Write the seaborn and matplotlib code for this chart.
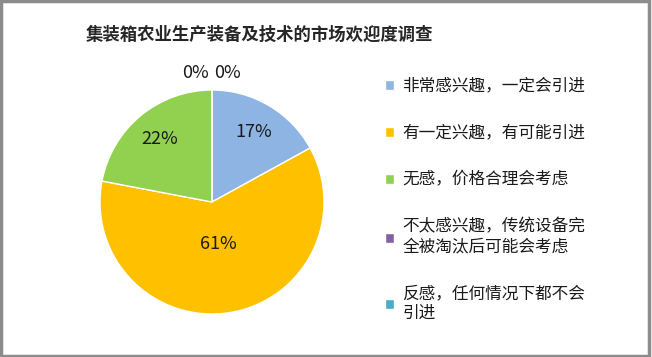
import seaborn as sns
import matplotlib.pyplot as plt
from matplotlib.patches import Rectangle

sns.set_theme(style="white")
plt.rcParams['font.family'] = ['Noto Sans CJK SC', 'DejaVu Sans']

# 数据
categories = ["非常感兴趣，一定会引进", "有一定兴趣，有可能引进", "无感，价格合理会考虑",
              "不太感兴趣，传统设备完\n全被淘汰后可能会考虑", "反感，任何情况下都不会\n引进"]
values = [17, 61, 22, 0, 0]
colors = ["#8EB4E3", "#FFC000", "#92D050", "#8064A2", "#4BACC6"]

fig = plt.figure(figsize=(6.52, 3.57), dpi=100)
ax = fig.add_axes([100 / 652, 1 - 314 / 357, 224 / 652, 224 / 357])

wedges, texts, autotexts = ax.pie(values, colors=colors, startangle=90, counterclock=False,
                                  autopct="%1.0f%%", pctdistance=0.73,
                                  wedgeprops=dict(linewidth=1, edgecolor="white"),
                                  textprops=dict(fontsize=13, color="#1a1a1a"))
ax.set_aspect("equal")
ax.set_xlim(-1, 1)
ax.set_ylim(-1, 1)
# 61% 靠近圆心
x61, y61 = autotexts[1].get_position()
autotexts[1].set_position((x61 * 0.52, y61 * 0.52))
# 0% 标签放在饼图上方
autotexts[3].set_position((-0.15, 1.15))
autotexts[4].set_position((0.14, 1.15))
for t in autotexts:
    t.set_clip_on(False)

fig.text(260 / 652, 1 - 35 / 357, "集装箱农业生产装备及技术的市场欢迎度调查",
         ha="center", va="center", fontsize=12.5, fontweight="bold")

leg = fig.legend(wedges, categories, loc="upper left", bbox_to_anchor=(378 / 652, 1 - 71 / 357),
                 frameon=False, fontsize=12, labelspacing=1.8, handlelength=0.55,
                 handleheight=0.55, handletextpad=0.5, borderaxespad=0)
for t in leg.get_texts():
    t.set_color("#1a1a1a")

fig.patches.append(Rectangle((0.002, 0.003), 0.994, 0.993, transform=fig.transFigure,
                             fill=False, edgecolor="#8c8c8c", linewidth=2.5))

fig.savefig("out.png", dpi=100)
